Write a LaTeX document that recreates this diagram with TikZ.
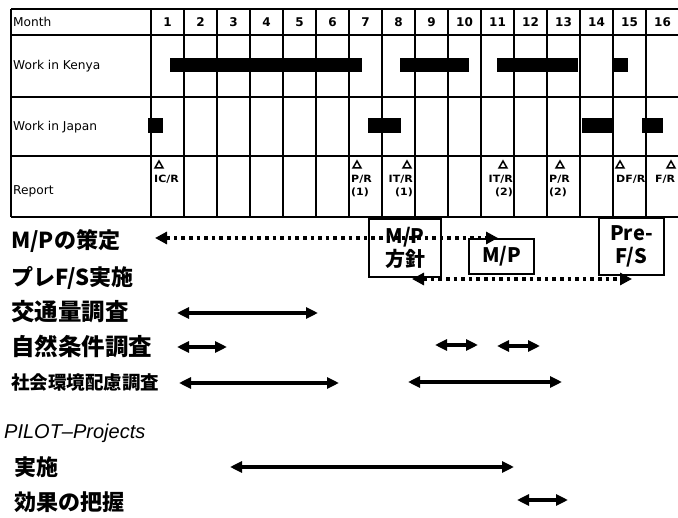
\documentclass[tikz,border=0pt]{standalone}
\usepackage{fontspec}
\setmainfont{DejaVu Sans}
\newfontfamily\jp{Noto Sans CJK JP}
\newfontfamily\pilotf{Liberation Sans}
\usetikzlibrary{arrows.meta}
\begin{document}
\begin{tikzpicture}[x=1pt,y=-1pt,
  grid/.style={line width=1.8pt},
  bar/.style={fill=black},
  hdr/.style={font=\fontsize{12.2}{14}\selectfont, anchor=west, inner sep=0},
  num/.style={font=\bfseries\fontsize{12}{14}\selectfont, inner sep=0},
  rep/.style={font=\bfseries\fontsize{10}{11}\selectfont, inner sep=0},
  tri/.style={line width=1.5pt, line join=miter},
  jl/.style={font=\jp\bfseries\fontsize{22}{24}\selectfont, anchor=west, inner sep=0},
  jxl/.style={font=\jp\bfseries\fontsize{23.5}{26}\selectfont, anchor=west, inner sep=0},
  js/.style={font=\jp\bfseries\fontsize{18.5}{20}\selectfont, anchor=west, inner sep=0},
  boxn/.style={draw, line width=1.5pt, inner sep=0, align=center, font=\jp\bfseries\fontsize{20}{23}\selectfont},
  sarr/.style={line width=3.2pt, {Triangle[length=12pt,width=11pt]}-{Triangle[length=12pt,width=11pt]}},
  darr/.style={line width=3.6pt, dash pattern=on 3.6pt off 4pt, {Triangle[length=12pt,width=12pt]}-{Triangle[length=12pt,width=12pt]}}
]
\useasboundingbox (0,0) rectangle (678,518);
% table grid
\foreach \yy in {9,35,97,156,217} \draw[grid] (11,\yy) -- (678,\yy);
\draw[grid] (11,9) -- (11,217);
\foreach \k in {0,...,15} \draw[grid] ({151+33*\k},9) -- ({151+33*\k},217);
% row labels
\node[hdr] (month) at (13,22) {Month};
\node[hdr] (kenya) at (13,66) {Work in Kenya};
\node[hdr] (japan) at (13,127) {Work in Japan};
\node[hdr] (report) at (13,191) {Report};
\foreach \k in {1,...,16} \node[num] (m\k) at ({151+33*\k-16.5},22) {\k};
% bars
\fill[bar] (170,58) rectangle (362,72);
\fill[bar] (400,58) rectangle (469,72);
\fill[bar] (497,58) rectangle (578,72);
\fill[bar] (613,58) rectangle (628,72);
\fill[bar] (148,118) rectangle (163,133);
\fill[bar] (368,118) rectangle (401,133);
\fill[bar] (582,118) rectangle (614,133);
\fill[bar] (642,118) rectangle (663,133);
% report triangles
\foreach \tx in {159,357,407,503,560,620,671}
  \draw[tri] ({\tx-4},168) -- ({\tx+4},168) -- (\tx,161) -- cycle;
\node[rep, anchor=west] (r1) at (154,179) {\scalebox{1.1}[1]{IC/R}};
\node[rep, anchor=west] (r7) at (351,179) {\scalebox{1.1}[1]{P/R}};
\node[rep, anchor=west] (r7b) at (351,192) {\scalebox{1.1}[1]{(1)}};
\node[rep, anchor=east] (r8) at (413,179) {\scalebox{1.1}[1]{IT/R}};
\node[rep, anchor=east] (r8b) at (413,192) {\scalebox{1.1}[1]{(1)}};
\node[rep, anchor=east] (r11) at (513,179) {\scalebox{1.1}[1]{IT/R}};
\node[rep, anchor=east] (r11b) at (513,192) {\scalebox{1.1}[1]{(2)}};
\node[rep, anchor=west] (r13) at (549,179) {\scalebox{1.1}[1]{P/R}};
\node[rep, anchor=west] (r13b) at (549,192) {\scalebox{1.1}[1]{(2)}};
\node[rep, anchor=west] (r15) at (616,179) {\scalebox{1.1}[1]{DF/R}};
\node[rep, anchor=west] (r16) at (655,179) {\scalebox{1.1}[1]{F/R}};
% lower labels
\node[jl] (mp) at (11,241) {M/Pの策定};
\node[jl] (pre) at (11,278) {プレF/S実施};
\node[jxl] (kotsu) at (11,312) {交通量調査};
\node[jxl] (shizen) at (11,346) {自然条件調査};
\node[js] (shakai) at (11,383) {社会環境配慮調査};
\node[anchor=west, inner sep=0, font=\pilotf\itshape\fontsize{20}{22}\selectfont] (pilot) at (4,433) {PILOT–Projects};
\node[jl] (jisshi) at (14,467) {実施};
\node[jl] (koka) at (14,502) {効果の把握};
% boxes
\node[boxn, minimum width=72pt, minimum height=58pt] (b1) at (405,248) {M/P\\方針};
\node[boxn, minimum width=65pt, minimum height=35pt] (b2) at (501.5,256.5) {M/P};
\node[boxn, minimum width=65pt, minimum height=57pt] (b3) at (631.5,246.5) {Pre-\\F/S};
% arrow end points
\coordinate (d1a) at (155,238); \coordinate (d1b) at (498,238);
\coordinate (d2a) at (412,279); \coordinate (d2b) at (632,279);
\coordinate (a1a) at (177,313); \coordinate (a1b) at (318,313);
\coordinate (a2a) at (177,347); \coordinate (a2b) at (227,347);
\coordinate (a3a) at (435,345); \coordinate (a3b) at (478,345);
\coordinate (a4a) at (497,346); \coordinate (a4b) at (540,346);
\coordinate (a5a) at (179,383); \coordinate (a5b) at (339,383);
\coordinate (a6a) at (408,382); \coordinate (a6b) at (562,382);
\coordinate (a7a) at (230,467); \coordinate (a7b) at (514,467);
\coordinate (a8a) at (517,500); \coordinate (a8b) at (568,500);
\draw[darr] (d1a) -- (d1b);
\draw[darr] (d2a) -- (d2b);
\foreach \n in {1,...,8} \draw[sarr] (a\n a) -- (a\n b);
\end{tikzpicture}
\end{document}
